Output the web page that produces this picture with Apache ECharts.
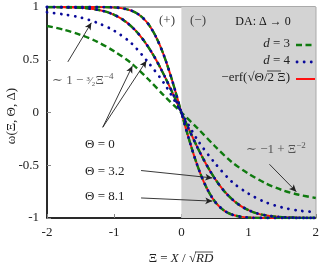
<!DOCTYPE html>
<html><head><meta charset="utf-8">
<script src="https://cdn.jsdelivr.net/npm/echarts@6/dist/echarts.min.js"></script>
<style>html,body{margin:0;padding:0;background:#fff}#c{width:322px;height:269px}</style>
</head><body><div id="c"></div>
<script>
// ---- data ----
const xiTheta0 = [-2,-1.75,-1.5,-1.25,-1,-0.75,-0.5,-0.25,0,0.25,0.5,0.75,1,1.25,1.5,1.75,2];
const omegaTheta0_d3 = [0.82,0.785,0.735,0.67,0.58,0.47,0.32,0.155,0,-0.155,-0.32,-0.47,-0.58,-0.67,-0.735,-0.78,-0.81];
const omegaTheta0_d4 = [0.95,0.93,0.9,0.85,0.775,0.66,0.48,0.27,0,-0.27,-0.48,-0.655,-0.77,-0.85,-0.9,-0.93,-0.945];

const xiTheta32 = [-2,-1.75,-1.5,-1.375,-1.25,-1.125,-1,-0.875,-0.75,-0.625,-0.5,-0.375,-0.25,-0.125,0,0.125,0.25,0.375,0.5,0.625,0.75,0.875,1,1.125,1.25,1.375,1.5,1.75,2];
const omegaTheta32 = [1,0.998,0.992,0.986,0.974,0.956,0.926,0.882,0.819,0.736,0.628,0.497,0.345,0.177,0,-0.177,-0.345,-0.497,-0.628,-0.736,-0.819,-0.882,-0.926,-0.956,-0.974,-0.986,-0.992,-0.998,-1];

const xiTheta81 = [-2,-1.5,-1.25,-1,-0.875,-0.75,-0.6875,-0.625,-0.5625,-0.5,-0.4375,-0.375,-0.3125,-0.25,-0.1875,-0.125,-0.0625,0,0.0625,0.125,0.1875,0.25,0.3125,0.375,0.4375,0.5,0.5625,0.625,0.6875,0.75,0.875,1,1.25,1.5,2];
const omegaTheta81 = [1,1,1,0.996,0.987,0.967,0.949,0.924,0.89,0.845,0.786,0.713,0.626,0.523,0.406,0.278,0.141,0,-0.141,-0.278,-0.406,-0.523,-0.626,-0.713,-0.786,-0.845,-0.89,-0.924,-0.949,-0.967,-0.987,-0.996,-1,-1,-1];

const xTicks = [-2,-1,0,1,2];
const yTicks = [-1,-0.5,0,0.5,1];

// ---- styles ----
const GREEN = '#0f7a0f', BLUE = '#0a0a9a', RED = '#ff1010';
const FONT = '"Liberation Serif","DejaVu Serif",serif';
const pairs = (xs, ys) => xs.map((x, i) => [x, ys[i]]);

function red(xs, ys) {
  return {type:'line', name:'erf', data:pairs(xs,ys), showSymbol:false, smooth:0.3, z:3,
    lineStyle:{color:RED, width:2}, silent:true};
}
function green(xs, ys) {
  return {type:'line', name:'d3', data:pairs(xs,ys), showSymbol:false, smooth:0.3, z:4,
    lineStyle:{color:GREEN, width:2.4, type:[6,3.5]}, silent:true};
}
function blue(xs, ys) {
  return {type:'line', name:'d4', data:pairs(xs,ys), showSymbol:false, smooth:0.3, z:5,
    lineStyle:{color:BLUE, width:2.8, type:[0.1,7], cap:'round'}, silent:true};
}

const arrows = [
  [[-1.69,0.48],[-1.34,0.85]],
  [[-1.17,-0.14],[-0.73,0.44]],
  [[-1.17,-0.14],[-0.52,0.49]],
  [[-0.6,-0.55],[0.46,-0.62]],
  [[-0.6,-0.81],[0.46,-0.84]],
  [[1.31,-0.49],[1.71,-0.75]]
];

const chart = echarts.init(document.getElementById('c'), null, {renderer:'canvas'});
const option = {
  animation:false,
  backgroundColor:'#fff',
  grid:{left:47, right:6, top:7, bottom:51, show:true, borderColor:'#555', borderWidth:1, backgroundColor:'#fff'},
  xAxis:{type:'value', min:-2, max:2, interval:1,
    axisLine:{show:true, onZero:false, lineStyle:{color:'#000', width:1.5}},
    axisTick:{show:true, inside:true, length:4, lineStyle:{color:'#888'}},
    axisLabel:{fontFamily:FONT, fontSize:13, color:'#222', margin:8, customValues: xTicks},
    splitLine:{show:false}},
  yAxis:{type:'value', min:-1, max:1, interval:0.5,
    axisLine:{show:true, onZero:false, lineStyle:{color:'#000', width:1.5}},
    axisTick:{show:true, inside:true, length:4, lineStyle:{color:'#888'}},
    axisLabel:{fontFamily:FONT, fontSize:13, color:'#222', margin:8, customValues: yTicks},
    splitLine:{show:false}},
  series:[
    {type:'line', data:[], silent:true,
      markArea:{silent:true, itemStyle:{color:'#d3d3d3'}, data:[[{xAxis:0, yAxis:-1},{xAxis:2, yAxis:1}]]},
      markLine:{silent:true, symbol:['none','arrow'], symbolSize:[5,7], label:{show:false},
        lineStyle:{color:'#222', width:0.9, type:'solid'},
        data: arrows.map(a => [{coord:a[0]},{coord:a[1]}])}},
    red(xiTheta32, omegaTheta32),
    red(xiTheta81, omegaTheta81),
    green(xiTheta0, omegaTheta0_d3),
    green(xiTheta32, omegaTheta32),
    green(xiTheta81, omegaTheta81),
    blue(xiTheta0, omegaTheta0_d4),
    blue(xiTheta32, omegaTheta32),
    blue(xiTheta81, omegaTheta81)
  ],
  graphic:[
    {type:'text', x:12, y:116, rotation:Math.PI/2, z:10,
      style:{text:'ω(Ξ, Θ, Δ)', font:'13px '+FONT, fill:'#222', align:'center', verticalAlign:'middle'}},
    {type:'text', x:181, y:259, z:10,
      style:{text:'{n|Ξ = }{i|X}{n| / √}{i|RD}', align:'center', verticalAlign:'middle',
        rich:{n:{fontFamily:FONT, fontSize:13, fill:'#222'}, i:{fontFamily:FONT, fontSize:13, fontStyle:'italic', fill:'#222'}}}},
    {type:'line', z:10, shape:{x1:195, y1:252, x2:213, y2:252}, style:{stroke:'#222', lineWidth:0.8}},
    {type:'text', x:167, y:21, z:10, style:{text:'(+)', font:'13px '+FONT, fill:'#444', align:'center', verticalAlign:'middle'}},
    {type:'text', x:198, y:21, z:10, style:{text:'(−)', font:'13px '+FONT, fill:'#444', align:'center', verticalAlign:'middle'}},
    {type:'text', x:263, y:22, z:10, style:{text:'DA: Δ → 0', font:'12px '+FONT, fill:'#111', align:'center', verticalAlign:'middle'}},
    {type:'text', x:290, y:44, z:10, style:{text:'{i|d}{n| = 3}', align:'right', verticalAlign:'middle',
      rich:{n:{fontFamily:FONT, fontSize:13, fill:'#222'}, i:{fontFamily:FONT, fontSize:13, fontStyle:'italic', fill:'#222'}}}},
    {type:'line', z:10, shape:{x1:296, y1:45, x2:315, y2:45}, style:{stroke:GREEN, lineWidth:2.4, lineDash:[6,3.5]}},
    {type:'text', x:290, y:61, z:10, style:{text:'{i|d}{n| = 4}', align:'right', verticalAlign:'middle',
      rich:{n:{fontFamily:FONT, fontSize:13, fill:'#222'}, i:{fontFamily:FONT, fontSize:13, fontStyle:'italic', fill:'#222'}}}},
    {type:'line', z:10, shape:{x1:297, y1:62, x2:315, y2:62}, style:{stroke:BLUE, lineWidth:2.8, lineDash:[0.1,7], lineCap:'round'}},
    {type:'text', x:290, y:78, z:10, style:{text:'−erf(√Θ/2 Ξ)', font:'13px '+FONT, fill:'#222', align:'right', verticalAlign:'middle'}},
    {type:'line', z:10, shape:{x1:267, y1:71, x2:281, y2:71}, style:{stroke:'#222', lineWidth:0.8}},
    {type:'line', z:10, shape:{x1:296, y1:79, x2:315, y2:79}, style:{stroke:RED, lineWidth:2}},
    {type:'text', x:52, y:81, z:10, style:{text:'{n|∼ 1 − }{f|³⁄₂}{n|Ξ}{s|−4}', align:'left', verticalAlign:'middle',
      rich:{n:{fontFamily:FONT, fontSize:13, fill:'#555'}, f:{fontFamily:FONT, fontSize:11, fill:'#555'},
        s:{fontFamily:FONT, fontSize:9, fill:'#555', verticalAlign:'top', padding:[0,0,8,0]}}}},
    {type:'text', x:246, y:150, z:10, style:{text:'{n|∼ −1 + Ξ}{s|−2}', align:'left', verticalAlign:'middle',
      rich:{n:{fontFamily:FONT, fontSize:13, fill:'#555'},
        s:{fontFamily:FONT, fontSize:9, fill:'#555', verticalAlign:'top', padding:[0,0,8,0]}}}},
    {type:'text', x:85, y:145, z:10, style:{text:'Θ = 0', font:'13px '+FONT, fill:'#222', align:'left', verticalAlign:'middle'}},
    {type:'text', x:85, y:172, z:10, style:{text:'Θ = 3.2', font:'13px '+FONT, fill:'#222', align:'left', verticalAlign:'middle'}},
    {type:'text', x:85, y:197, z:10, style:{text:'Θ = 8.1', font:'13px '+FONT, fill:'#222', align:'left', verticalAlign:'middle'}}
  ]
};
chart.setOption(option);
</script>
</body></html>
